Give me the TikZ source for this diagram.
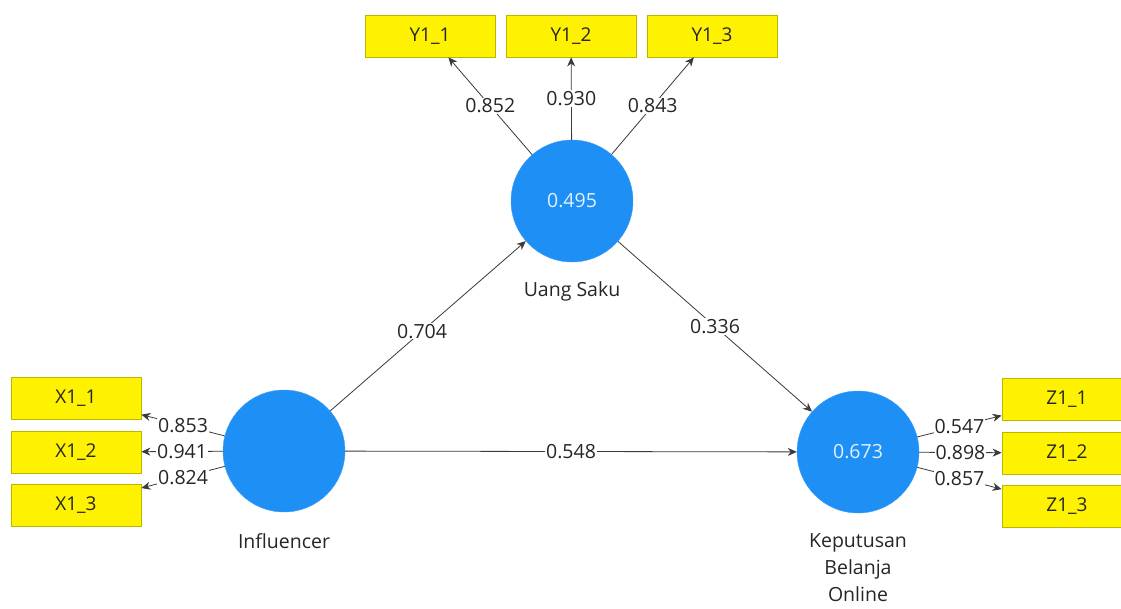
\documentclass[tikz,border=0pt]{standalone}
\usepackage{fontspec}
\setmainfont{Open Sans}
\usetikzlibrary{arrows.meta}
\definecolor{lvblue}{HTML}{1E8FF5}
\definecolor{boxedge}{HTML}{B8B800}
\definecolor{linegray}{HTML}{3A3A3A}
\begin{document}
\begin{tikzpicture}[x=1pt,y=-1pt,
 lv/.style={circle,fill=lvblue,draw=lvblue!85!white,minimum size=122pt,inner sep=0pt,text=white!88!lvblue,font=\fontsize{19.5}{22}\selectfont},
 ind/.style={rectangle,fill=yellow,draw=boxedge,line width=0.8pt,minimum width=130pt,minimum height=42pt,inner sep=0pt,text=black!85,font=\fontsize{19}{22}\selectfont},
 lab/.style={font=\fontsize{19.5}{27}\selectfont,align=center,text=black!85},
 ln/.style={draw=linegray,line width=0.8pt,-{Stealth[length=9pt,width=8pt]}},
 wt/.style={fill=white,inner sep=1pt,font=\fontsize{19.5}{22}\selectfont,text=black!85}
]
\useasboundingbox[fill=white] (0,0) rectangle (1121,608);

% latent variables
\node[lv] (us) at (572,201) {0.495};
\node[lv] (inf) at (284,451) {};
\node[lv] (kb) at (858,452) {0.673};
\node[lab] (lus) at (572,291) {Uang Saku};
\node[lab] (linf) at (284,541) {Influencer};
\node[lab] (lkb) at (858,568) {Keputusan\\Belanja\\Online};

% indicators
\node[ind] (y11) at (430,36) {Y1\_1};
\node[ind] (y12) at (571,36) {Y1\_2};
\node[ind] (y13) at (712,36) {Y1\_3};
\node[ind] (x11) at (76,398) {X1\_1};
\node[ind] (x12) at (76,452) {X1\_2};
\node[ind] (x13) at (76,505) {X1\_3};
\node[ind] (z11) at (1067,399) {Z1\_1};
\node[ind] (z12) at (1067,453) {Z1\_2};
\node[ind] (z13) at (1067,506) {Z1\_3};

% loadings
\draw[ln] (us) -- node[wt] {0.852} (y11);
\draw[ln] (us) -- node[wt] {0.930} (y12);
\draw[ln] (us) -- node[wt] {0.843} (y13);
\draw[ln] (inf) -- node[wt] {0.853} (x11);
\draw[ln] (inf) -- node[wt] {0.941} (x12);
\draw[ln] (inf) -- node[wt] {0.824} (x13);
\draw[ln] (kb) -- node[wt] {0.547} (z11);
\draw[ln] (kb) -- node[wt] {0.898} (z12);
\draw[ln] (kb) -- node[wt] {0.857} (z13);

% paths
\draw[ln] (inf) -- node[wt,pos=0.47] {0.704} (us);
\draw[ln] (us) -- node[wt] {0.336} (kb);
\draw[ln] (inf) -- node[wt] {0.548} (kb);
\end{tikzpicture}
\end{document}
